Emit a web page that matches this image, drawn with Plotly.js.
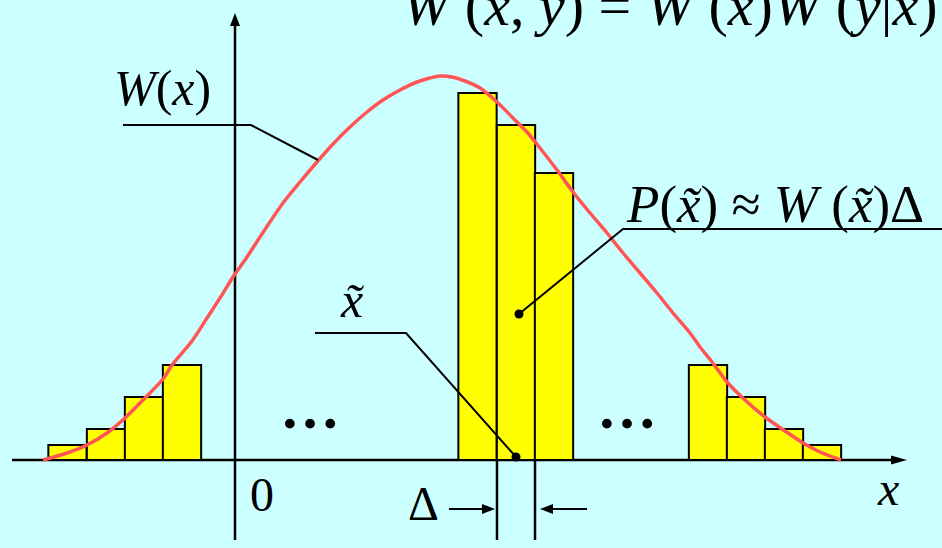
<!DOCTYPE html>
<html>
<head>
<meta charset="utf-8">
<script src="https://cdn.plot.ly/plotly-3.0.1.min.js"></script>
<style>
html,body{margin:0;padding:0;background:#CCFFFF;}
#chart{width:942px;height:548px;}
</style>
</head>
<body>
<div id="chart"></div>
<script>
// ---- data (x: horizontal position, origin at vertical axis; y: height above x axis) ----
var leftBarX   = [-167.5, -129, -91, -53];
var leftBarY   = [15, 31, 63, 95];
var midBarX    = [242.5, 281, 319];
var midBarY    = [367, 335, 287];
var rightBarX  = [473, 511, 549, 587];
var rightBarY  = [95, 63, 31, 15];
var barWidth   = 38.3;

var curveX = [-192,-168,-148,-128,-110,-92,-72,-63,-43,-28,-15,-2,12,25,48,65,82,98,115,132,148,165,182,195,205,
              217,230,245,262,278,292,305,322,338,355,372,388,405,422,438,455,465,477,492,510,530,550,568,585,606];
var curveY = [0,7,15,27,42,60,81,95,119,142,162,183,203,223,257,278,298,316,333,348,360,370,378,382,384,
              383,379,372,358,342,328,312,290,268,247,227,207,187,167,147,127,113,98,78,60,43,29,17,8,0];

var pointerX = [284, 281];
var pointerY = [146, 3];

var font = "Liberation Serif, Times New Roman, serif";
var barX = leftBarX.concat(midBarX, rightBarX);
var barY = leftBarY.concat(midBarY, rightBarY);

var traces = [
  {type:'bar', x: barX, y: barY, width: barX.map(function(){return barWidth;}),
   marker:{color:'#FFFF00', line:{color:'#000000', width:2}}, hoverinfo:'skip'},
  {type:'scatter', mode:'lines', x: curveX, y: curveY, line:{color:'#FF5555', width:3.5, shape:'spline', smoothing:0.8}, hoverinfo:'skip'},
  {type:'scatter', mode:'markers', x: pointerX, y: pointerY, marker:{color:'#000000', size:9}, hoverinfo:'skip'}
];

var L = {color:'#000000', width:2.5};
var T = {color:'#000000', width:2};
var shapes = [
  // axes
  {type:'line', x0:-223, y0:0, x1:660, y1:0, line:L, layer:'below'},
  {type:'path', path:'M672,0 L656,4.6 L656,-4.6 Z', fillcolor:'#000', line:{width:0}},
  {type:'line', x0:0, y0:-80, x1:0, y1:436, line:L, layer:'below'},
  {type:'path', path:'M0,447 L-5,434 L5,434 Z', fillcolor:'#000', line:{width:0}},
  // delta guide lines
  {type:'line', x0:262, y0:0, x1:262, y1:-80, line:L},
  {type:'line', x0:300, y0:0, x1:300, y1:-80, line:L},
  {type:'line', x0:214, y0:-49, x1:250, y1:-49, line:T},
  {type:'path', path:'M260,-49 L247,-44 L247,-54 Z', fillcolor:'#000', line:{width:0}},
  {type:'line', x0:352, y0:-49, x1:315, y1:-49, line:T},
  {type:'path', path:'M305,-49 L318,-44 L318,-54 Z', fillcolor:'#000', line:{width:0}},
  // leaders
  {type:'path', path:'M-112,335 L16,335 L83,300', line:T},
  {type:'path', path:'M80,127 L171,127 L281,3', line:T},
  {type:'path', path:'M710,231 L388,231 L284,146', line:T}
];

function ann(x, y, text, size, opts){
  var a = {x:x, y:y, xref:'x', yref:'y', text:text, showarrow:false,
           font:{family:font, size:size, color:'#000'}, xanchor:'center', yanchor:'middle'};
  for (var k in (opts||{})) a[k] = opts[k];
  return a;
}

var annotations = [
  ann(-73, 372, '<i>W</i>(<i>x</i>)', 50),
  ann(117, 160, '<i>x\u0303</i>', 50),
  ann(540, 256, '<i>P</i>(<i>x\u0303</i>) \u2248 <i>W</i> (<i>x\u0303</i>)\u0394', 53),
  ann(27, -34, '0', 48),
  ann(653, -28, '<i>x</i>', 48),
  ann(188, -43, '\u0394', 48),
  ann(75, 52, '<b>\u2026</b>', 60),
  ann(392, 52, '<b>\u2026</b>', 60),
  ann(165, 420, '<i>W</i> (<i>x</i>, <i>y</i>) = <i>W</i> (<i>x</i>)<i>W</i> (<i>y</i>|<i>x</i>)', 58, {xanchor:'left', yanchor:'bottom'})
];

var layout = {
  width:942, height:548,
  margin:{l:0, r:0, t:0, b:0, pad:0},
  paper_bgcolor:'#CCFFFF', plot_bgcolor:'#CCFFFF',
  showlegend:false,
  bargap:0,
  xaxis:{range:[-235, 707], visible:false, fixedrange:true},
  yaxis:{range:[-88, 460], visible:false, fixedrange:true},
  shapes:shapes,
  annotations:annotations
};

Plotly.newPlot('chart', traces, layout, {staticPlot:true, displayModeBar:false});
</script>
</body>
</html>
